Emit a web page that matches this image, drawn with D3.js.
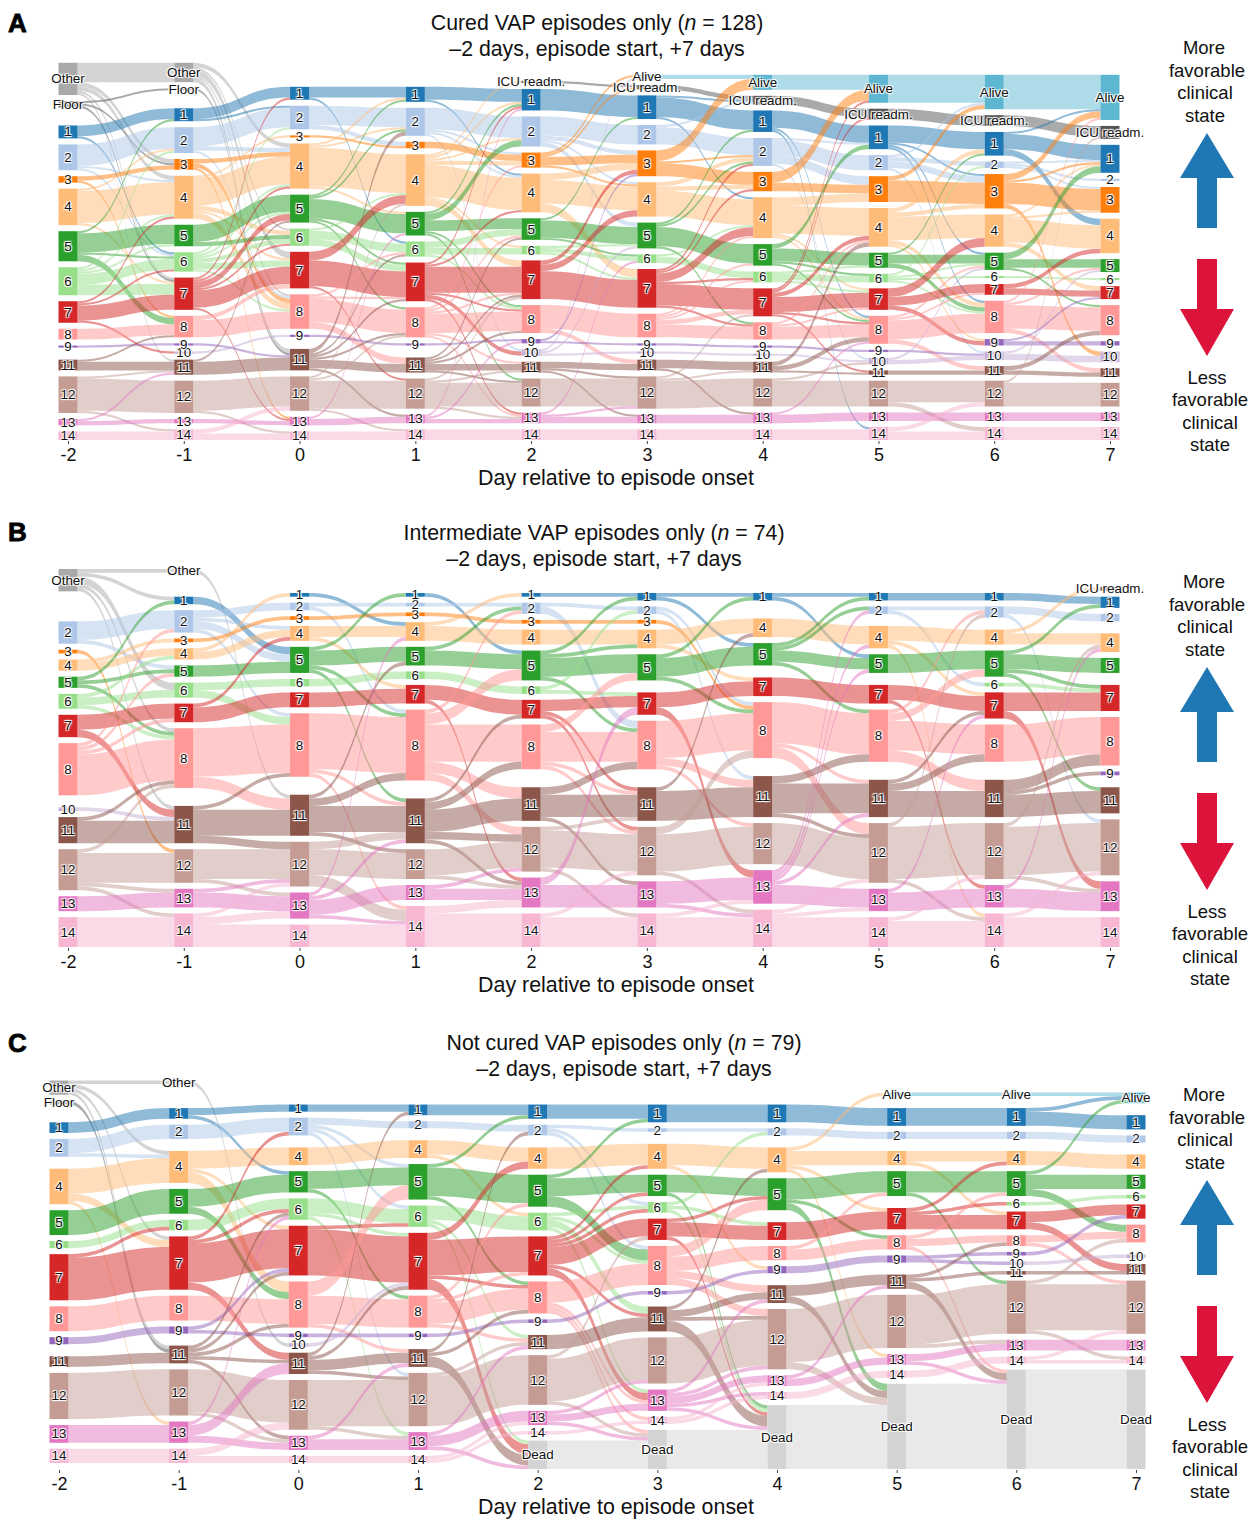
<!DOCTYPE html>
<html>
<head>
<meta charset="utf-8">
<script src="https://cdn.jsdelivr.net/npm/d3@7"></script>
<style>
body { margin: 0; background: #fff; }
svg text { font-family: "Liberation Sans", Arial, sans-serif; }
.nodeLabel { font-size: 13.4px; fill: #111; text-anchor: middle; dominant-baseline: central;
   text-shadow: 1px 1px 1px #fff, -1px -1px 1px #fff, 1px -1px 1px #fff, -1px 1px 1px #fff; }
.tick text { font-size: 18px; fill: #111; }
.tick line { stroke: #444; }
</style>
</head>
<body>
<div id="chart"></div>
<script>
const O = "Other", F = "Floor", AL = "Alive", IC = "ICU readm.", D = "Dead";
const stateOrder = [O, F, AL, IC, 1, 2, 3, 4, 5, 6, 7, 8, 9, 10, 11, 12, 13, 14, D];
const days = [-2, -1, 0, 1, 2, 3, 4, 5, 6, 7];

// patients per state, one row per day, same order as stateOrder
const nodesA = [
   [15,3,0,0, 6,12,3,17,14,13,10,5,1,0,5,17,3,4, 0],
   [9,1,0,0, 6,12,5,20,10,9,15,10,1,1,7,15,2,5, 0],
   [0,0,0,0, 6,11,1,21,13,8,17,16,1,0,10,16,4,4, 0],
   [0,0,0,0, 7,13,3,24,11,7,18,14,1,0,7,14,4,5, 0],
   [0,0,0,1, 10,14,7,18,10,4,18,13,2,3,5,13,5,5, 0],
   [0,0,2,2, 11,9,12,16,12,4,18,11,1,1,5,15,4,5, 0],
   [0,0,7,4, 10,13,9,19,10,5,13,8,1,1,5,13,5,5, 0],
   [0,0,13,5, 11,7,12,18,7,4,10,13,1,3,2,12,4,6, 0],
   [0,0,16,5, 11,3,16,15,8,1,5,15,3,4,4,12,4,6, 0],
   [0,0,21,6, 13,1,12,16,6,1,6,14,2,5,4,11,4,6, 0]
];
const nodesB = [
   [6,0,0,0, 0,6,1,3,3,4,6,14,0,1,7,11,4,8, 0],
   [1,0,0,0, 2,6,1,3,3,4,5,16,0,0,10,9,5,9, 0],
   [0,0,0,0, 1,2,1,4,7,2,4,17,0,0,11,12,7,6, 0],
   [0,0,0,0, 1,1,1,5,5,2,5,19,0,0,12,8,4,11, 0],
   [0,0,0,0, 1,3,1,4,8,2,5,12,0,0,9,12,8,9, 0],
   [0,0,0,0, 2,2,1,5,7,0,6,13,0,0,9,13,7,9, 0],
   [0,0,0,0, 2,0,0,5,6,0,5,15,0,0,11,11,9,10, 0],
   [0,0,0,0, 2,2,0,6,5,0,5,14,0,0,10,16,6,8, 0],
   [0,0,0,0, 2,3,0,4,7,1,7,10,0,0,10,15,6,9, 0],
   [0,0,0,1, 3,2,0,5,4,0,7,13,1,0,7,15,8,8, 0]
];
const nodesC = [
   [4,1,0,0, 3,5,0,10,7,2,13,7,2,0,3,13,5,4, 0],
   [1,0,0,0, 3,4,0,9,7,3,15,7,2,0,5,13,6,4, 0],
   [0,0,0,0, 2,5,0,5,6,6,14,13,1,1,6,14,4,2, 0],
   [0,0,0,0, 3,2,0,5,10,6,16,9,1,0,5,15,5,2, 0],
   [0,0,0,0, 4,3,0,6,9,5,11,9,1,0,4,14,4,1, 8],
   [0,0,0,0, 5,1,0,7,6,3,6,11,1,0,7,13,6,2, 11],
   [0,0,0,0, 5,2,0,7,9,0,5,4,2,0,5,17,3,2, 18],
   [0,0,1,0, 5,2,0,4,7,0,6,4,2,0,4,15,3,2, 24],
   [0,0,1,0, 5,2,0,4,7,1,5,3,1,1,1,15,3,2, 28],
   [0,0,3,0, 4,2,0,4,4,1,4,5,0,1,3,15,3,2, 28]
];

// [from, to, patients] for each step from one day to the next
const flowsA = [
   [[O,O,9],[O,3,2],[O,4,2],[O,7,1],[O,11,1],[F,F,1],[F,3,1],[F,7,1],[1,1,5],[1,6,1],[2,2,10],[2,4,1],[2,6,1],[3,3,2],[3,8,1],[4,2,1],[4,4,15],[4,7,1],[5,1,1],[5,5,9],[5,6,1],[5,8,3],[6,2,1],[6,4,1],[6,5,1],[6,6,5],[6,7,5],[7,4,1],[7,6,1],[7,7,7],[7,10,1],[8,8,5],[9,9,1],[11,8,1],[11,11,4],[12,11,1],[12,12,15],[12,14,1],[13,11,1],[13,13,2],[14,14,4]],
   [[O,4,2],[O,6,1],[O,7,3],[O,8,1],[O,11,2],[F,11,1],[1,1,5],[1,2,1],[2,2,9],[2,4,2],[2,8,1],[3,4,2],[3,8,2],[3,13,1],[4,3,1],[4,4,13],[4,6,2],[4,7,1],[4,8,3],[5,5,8],[5,6,2],[6,2,1],[6,4,1],[6,5,1],[6,6,2],[6,7,3],[6,8,1],[7,1,1],[7,4,1],[7,5,3],[7,6,1],[7,7,8],[7,13,1],[8,7,2],[8,8,8],[9,11,1],[10,9,1],[11,5,1],[11,11,6],[12,12,14],[12,14,1],[13,13,2],[14,12,2],[14,14,3]],
   [[1,1,5],[1,6,1],[2,2,9],[2,3,2],[3,3,1],[4,1,1],[4,2,1],[4,4,18],[4,5,1],[5,1,1],[5,2,1],[5,5,9],[5,7,1],[5,8,1],[6,4,1],[6,6,4],[6,7,3],[7,4,4],[7,7,12],[7,12,1],[8,6,1],[8,7,1],[8,8,11],[8,11,3],[9,9,1],[11,2,2],[11,6,1],[11,7,1],[11,8,1],[11,11,4],[11,13,1],[12,4,1],[12,8,1],[12,12,13],[12,14,1],[13,5,1],[13,13,3],[14,14,4]],
   [[1,1,6],[1,4,1],[2,2,10],[2,3,1],[2,4,1],[2,10,1],[3,3,3],[4,IC,1],[4,1,1],[4,2,1],[4,3,2],[4,4,15],[4,6,1],[4,7,3],[5,1,1],[5,2,3],[5,5,5],[5,8,1],[5,12,1],[6,5,3],[6,6,3],[6,8,1],[7,1,1],[7,4,1],[7,7,12],[7,8,1],[7,10,2],[7,13,1],[8,3,1],[8,5,1],[8,7,1],[8,8,9],[8,11,1],[8,13,1],[9,9,1],[11,5,1],[11,7,1],[11,8,1],[11,11,3],[11,12,1],[12,7,1],[12,11,1],[12,12,11],[12,13,1],[13,1,1],[13,9,1],[13,13,2],[14,14,5]],
   [[IC,IC,1],[1,1,10],[2,2,9],[2,3,2],[2,4,1],[2,5,2],[3,AL,1],[3,IC,1],[3,3,4],[3,4,1],[4,3,3],[4,4,11],[4,7,4],[5,1,1],[5,5,8],[5,6,1],[6,5,1],[6,6,2],[6,7,1],[7,3,2],[7,4,3],[7,7,13],[8,8,11],[8,11,2],[9,3,1],[9,9,1],[10,AL,1],[10,5,1],[10,10,1],[11,11,3],[11,12,1],[11,13,1],[12,12,13],[13,6,1],[13,12,1],[13,13,3],[14,14,5]],
   [[AL,AL,2],[IC,IC,2],[1,IC,1],[1,1,9],[1,4,1],[2,IC,1],[2,2,8],[3,AL,5],[3,2,1],[3,3,6],[4,2,2],[4,3,2],[4,4,12],[5,1,1],[5,2,1],[5,5,9],[5,8,1],[6,4,1],[6,6,3],[7,2,1],[7,3,1],[7,4,4],[7,6,1],[7,7,10],[7,8,1],[8,4,1],[8,5,1],[8,6,1],[8,7,2],[8,8,6],[9,9,1],[10,10,1],[11,11,4],[11,13,1],[12,7,1],[12,11,1],[12,12,13],[13,13,4],[14,14,5]],
   [[AL,AL,7],[IC,IC,4],[1,1,8],[1,8,1],[1,14,1],[2,1,1],[2,2,7],[2,3,4],[2,10,1],[3,AL,5],[3,3,4],[4,3,4],[4,4,13],[4,7,1],[4,8,1],[5,1,2],[5,5,6],[5,6,1],[5,8,1],[6,5,1],[6,6,3],[6,7,1],[7,AL,1],[7,IC,1],[7,4,2],[7,7,7],[7,8,1],[7,11,1],[8,4,1],[8,7,1],[8,8,6],[9,9,1],[10,10,1],[11,4,2],[11,8,2],[11,11,1],[12,10,1],[12,12,12],[13,8,1],[13,13,4],[14,14,5]],
   [[AL,AL,13],[IC,IC,5],[1,1,8],[1,3,1],[1,5,1],[1,8,1],[2,AL,1],[2,2,2],[2,3,3],[2,10,1],[3,AL,2],[3,3,10],[4,1,2],[4,3,2],[4,4,11],[4,8,2],[4,9,1],[5,1,1],[5,5,4],[5,8,2],[6,2,1],[6,6,1],[6,8,1],[6,5,1],[7,4,4],[7,7,4],[7,9,2],[8,5,1],[8,7,1],[8,8,9],[8,11,2],[9,10,1],[10,5,1],[10,10,2],[11,11,2],[12,12,10],[12,14,2],[13,13,4],[14,12,2],[14,14,4]],
   [[AL,AL,16],[IC,IC,5],[1,AL,1],[1,1,7],[1,4,3],[2,1,1],[2,2,1],[2,3,1],[3,AL,3],[3,1,1],[3,3,10],[3,10,2],[4,1,1],[4,3,1],[4,4,11],[4,7,2],[5,1,3],[5,5,4],[5,8,1],[6,6,1],[7,4,2],[7,7,3],[8,AL,1],[8,5,1],[8,8,11],[8,11,2],[9,7,1],[9,9,2],[10,5,1],[10,10,3],[11,8,2],[11,11,2],[12,IC,1],[12,12,11],[13,13,4],[14,14,6]]
];
const flowsB = [
   [[O,O,1],[O,1,1],[O,6,2],[O,8,1],[O,11,1],[2,2,5],[2,5,1],[3,12,1],[4,3,1],[4,4,2],[5,1,1],[5,5,1],[5,8,1],[6,4,1],[6,6,2],[6,8,1],[7,7,4],[7,11,2],[8,2,1],[8,5,1],[8,7,1],[8,8,11],[10,11,1],[11,8,1],[11,11,6],[12,8,1],[12,12,8],[12,13,1],[12,14,1],[13,13,4],[14,14,8]],
   [[O,11,1],[1,5,2],[2,2,2],[2,4,1],[2,5,2],[2,8,1],[3,3,1],[4,1,1],[4,4,2],[5,5,3],[6,6,2],[6,8,2],[7,4,1],[7,7,4],[8,8,13],[8,11,3],[11,8,1],[11,11,7],[11,12,2],[12,12,8],[12,13,1],[13,12,1],[13,13,4],[14,12,1],[14,13,2],[14,14,6]],
   [[1,4,1],[2,2,1],[2,8,1],[3,3,1],[4,4,3],[4,7,1],[5,1,1],[5,5,4],[5,8,1],[5,11,1],[6,6,2],[7,7,4],[8,8,15],[8,11,1],[8,14,1],[11,5,1],[11,8,2],[11,11,7],[11,12,1],[12,11,2],[12,12,7],[12,14,3],[13,4,1],[13,11,1],[13,13,4],[13,14,1],[14,14,6]],
   [[1,5,1],[2,2,1],[3,3,1],[4,1,1],[4,4,4],[5,2,1],[5,5,4],[6,6,2],[7,7,4],[7,13,1],[8,2,1],[8,5,3],[8,8,10],[8,11,3],[8,12,2],[11,7,1],[11,8,2],[11,11,6],[11,12,2],[11,13,1],[12,12,7],[12,13,1],[13,12,1],[13,13,3],[14,13,2],[14,14,9]],
   [[1,1,1],[2,2,1],[2,8,2],[3,3,1],[4,4,4],[5,1,1],[5,4,1],[5,5,5],[5,8,1],[6,2,1],[6,7,1],[7,7,3],[7,11,1],[7,12,1],[8,5,2],[8,8,8],[8,11,1],[8,12,1],[11,8,2],[11,11,6],[11,13,1],[12,11,1],[12,12,10],[12,14,1],[13,7,2],[13,13,6],[14,12,1],[14,14,8]],
   [[1,1,1],[1,5,1],[2,8,1],[2,11,1],[3,8,1],[4,4,4],[4,7,1],[5,1,1],[5,5,5],[5,8,1],[7,7,4],[7,13,2],[8,8,10],[8,11,2],[8,12,1],[11,4,1],[11,11,8],[12,8,2],[12,12,10],[12,14,1],[13,13,6],[13,14,1],[14,13,1],[14,14,8]],
   [[1,1,1],[1,5,1],[4,4,5],[5,1,1],[5,2,1],[5,5,3],[5,8,1],[7,7,5],[8,8,11],[8,11,1],[8,12,3],[11,8,2],[11,11,8],[11,12,1],[12,12,11],[13,2,1],[13,4,1],[13,5,1],[13,11,1],[13,13,5],[14,12,1],[14,13,1],[14,14,8]],
   [[1,1,2],[2,2,1],[2,6,1],[4,4,4],[4,7,1],[4,14,1],[5,5,5],[7,7,4],[7,13,1],[8,2,1],[8,5,2],[8,8,8],[8,11,3],[11,7,1],[11,8,2],[11,11,7],[12,2,1],[12,12,14],[12,14,1],[13,7,1],[13,13,5],[14,12,1],[14,14,7]],
   [[1,1,2],[2,2,2],[2,12,1],[4,IC,1],[4,4,3],[5,1,1],[5,5,4],[5,7,1],[5,11,1],[6,7,1],[7,7,5],[7,13,2],[8,8,10],[11,8,3],[11,9,1],[11,11,6],[12,4,1],[12,12,13],[12,13,1],[13,4,1],[13,13,5],[14,12,1],[14,14,8]]
];
const flowsC = [
   [[O,O,1],[O,4,1],[O,7,1],[O,11,1],[F,11,1],[1,1,3],[2,2,4],[2,4,1],[4,4,7],[4,7,2],[4,13,1],[5,5,7],[6,6,2],[7,6,1],[7,7,12],[8,8,7],[9,9,2],[11,11,3],[12,12,13],[13,13,5],[14,14,4]],
   [[O,10,1],[1,1,2],[1,5,1],[2,2,4],[4,4,5],[4,7,1],[4,8,3],[5,5,5],[5,8,2],[6,6,3],[7,2,1],[7,6,1],[7,7,11],[7,11,2],[8,8,7],[9,7,1],[9,9,1],[11,6,1],[11,7,1],[11,8,1],[11,11,1],[11,13,1],[12,12,12],[12,13,1],[13,6,1],[13,11,3],[13,13,2],[14,12,2],[14,14,2]],
   [[1,1,2],[2,2,2],[2,5,1],[2,6,1],[2,12,1],[4,4,5],[5,5,5],[5,8,1],[6,6,4],[6,7,1],[6,13,1],[7,6,1],[7,7,13],[8,5,4],[8,8,8],[8,11,1],[9,9,1],[10,7,1],[11,1,1],[11,7,1],[11,11,3],[11,12,1],[12,12,13],[12,13,1],[13,11,1],[13,13,3],[14,14,2]],
   [[1,1,3],[2,2,2],[4,4,4],[4,6,1],[5,1,1],[5,5,8],[5,8,1],[6,6,4],[6,11,1],[6,D,1],[7,4,2],[7,7,10],[7,8,1],[7,D,3],[8,5,1],[8,7,1],[8,8,6],[8,11,1],[9,9,1],[11,2,1],[11,8,1],[11,D,3],[12,11,1],[12,12,14],[13,11,1],[13,13,3],[13,D,1],[14,13,1],[14,14,1]],
   [[1,1,4],[2,2,1],[2,6,1],[2,8,1],[4,4,6],[5,1,1],[5,5,5],[5,8,3],[6,6,1],[6,8,1],[6,11,2],[6,13,1],[7,4,1],[7,5,1],[7,6,1],[7,7,5],[7,11,1],[7,13,2],[8,8,6],[8,13,1],[8,14,1],[8,D,1],[9,9,1],[11,11,4],[12,7,1],[12,12,12],[12,D,1],[13,12,1],[13,13,2],[13,D,1],[14,14,1],[D,D,8]],
   [[1,1,5],[2,2,1],[4,4,6],[4,9,1],[5,5,5],[5,D,1],[6,2,1],[6,7,1],[6,D,1],[7,5,1],[7,7,4],[7,D,1],[8,5,3],[8,8,4],[8,11,2],[8,12,2],[9,9,1],[11,4,1],[11,11,2],[11,12,1],[11,D,3],[12,12,13],[13,11,1],[13,12,1],[13,13,2],[13,14,1],[13,D,1],[14,13,1],[14,14,1],[D,D,11]],
   [[1,1,5],[2,2,2],[4,AL,1],[4,4,4],[4,7,1],[4,13,1],[5,5,6],[5,8,1],[5,D,2],[7,7,5],[8,5,1],[8,8,3],[9,9,2],[11,11,3],[11,D,2],[12,12,15],[12,D,2],[13,11,1],[13,13,2],[14,14,2],[D,D,18]],
   [[AL,AL,1],[1,1,5],[2,2,2],[4,4,3],[4,7,1],[5,5,6],[5,12,1],[7,4,1],[7,6,1],[7,7,4],[8,5,1],[8,8,2],[8,D,1],[9,9,1],[9,10,1],[11,8,1],[11,11,1],[11,D,2],[12,12,14],[12,13,1],[13,13,2],[13,D,1],[14,14,2],[D,D,24]],
   [[AL,AL,1],[1,AL,1],[1,1,4],[2,2,2],[4,4,4],[5,AL,1],[5,5,4],[5,8,2],[6,6,1],[7,7,3],[7,11,2],[8,8,2],[8,12,1],[9,7,1],[10,10,1],[11,11,1],[12,8,1],[12,12,13],[12,14,1],[13,13,3],[14,12,1],[14,14,1],[D,D,28]]
];

var stateColor = new Map([
   [O,"#a9a9a9"],[F,"#555555"],[AL,"#5db7d1"],[IC,"#555555"],[D,"#d3d3d3"],
   [1,"#1f77b4"],[2,"#aec7e8"],[3,"#ff7f0e"],[4,"#ffbb78"],[5,"#2ca02c"],[6,"#98df8a"],[7,"#d62728"],
   [8,"#ff9896"],[9,"#9467bd"],[10,"#c5b0d5"],[11,"#8c564b"],[12,"#c49c94"],[13,"#e377c2"],[14,"#f7b6d2"]
]);

var panels = [
   {letter:"A", title:"Cured VAP episodes only (", n:128, nodes:nodesA, flows:flowsA, x0:68, x1:1110, bottom:440, unit:2.15, titleX:597, top:23, letterY:32, axisY:478, side:0},
   {letter:"B", title:"Intermediate VAP episodes only (", n:74, nodes:nodesB, flows:flowsB, x0:68, x1:1110, bottom:947, unit:3.73, titleX:594, top:533, letterY:541, axisY:985, side:534},
   {letter:"C", title:"Not cured VAP episodes only (", n:79, nodes:nodesC, flows:flowsC, x0:59, x1:1136, bottom:1469, unit:3.55, titleX:624, top:1043, letterY:1052, axisY:1507, side:1047}
];

var w = 1250, h = 1519, gap = 6, nodeW = 19;

var svg = d3.select("#chart").append("svg").attr("width", w).attr("height", h);

panels.forEach(function(p){
   var x = d3.scalePoint().domain(days).range([p.x0, p.x1]);
   var thick = d3.scaleLinear().domain([0, p.n]).range([0, p.n * p.unit]);
   var hasDead = d3.max(p.nodes, function(r){ return r[r.length-1]; }) > 0;
   var g = svg.append("g");

   // stack each day's column up from the bottom, empty states still take a gap
   var cols = p.nodes.map(function(row, di){
      var y = p.bottom, col = new Map();
      for(let i = stateOrder.length - 1; i >= 0; i--){
         if(stateOrder[i] == D && !hasDead) continue;
         var t = thick(row[i]);
         col.set(stateOrder[i], {state:stateOrder[i], day:days[di], y0:y - t, y1:y, outY:y - t, inY:y - t});
         y -= t + gap;
      }
      return col;
   });

   // links
   var order = function(s){ return stateOrder.indexOf(s); };
   p.flows.forEach(function(step, di){
      var sorted = step.slice().sort(function(a, b){
         return d3.ascending(order(a[0]), order(b[0])) || d3.ascending(order(a[1]), order(b[1]));
      });
      var links = sorted.map(function(f){ return {from:f[0], to:f[1], value:f[2]}; });
      links.forEach(function(l){
         var n = cols[di].get(l.from);
         l.y0 = n.outY;
         n.outY += thick(l.value);
      });
      links.slice().sort(function(a, b){
         return d3.ascending(order(a.to), order(b.to)) || d3.ascending(order(a.from), order(b.from));
      }).forEach(function(l){
         var n = cols[di+1].get(l.to);
         l.y1 = n.inY;
         n.inY += thick(l.value);
      });
      var xa = x(days[di]) + nodeW/2, xb = x(days[di+1]) - nodeW/2, xm = (xa + xb)/2;
      g.append("g").selectAll("path")
         .data(links)
         .enter()
         .append("path")
         .attr("d", function(l){
            var t = thick(l.value), pth = d3.path();
            pth.moveTo(xa, l.y0);
            pth.bezierCurveTo(xm, l.y0, xm, l.y1, xb, l.y1);
            pth.lineTo(xb, l.y1 + t);
            pth.bezierCurveTo(xm, l.y1 + t, xm, l.y0 + t, xa, l.y0 + t);
            pth.closePath();
            return pth.toString();
         })
         .attr("fill", function(l){ return stateColor.get(l.from); })
         .attr("fill-opacity", 0.5);
   });

   // nodes and labels
   var nodeList = [];
   cols.forEach(function(col){
      col.forEach(function(n){ if(n.y1 - n.y0 > 0) nodeList.push(n); });
   });
   g.append("g").selectAll("rect")
      .data(nodeList)
      .enter()
      .append("rect")
      .attr("x", function(n){ return x(n.day) - nodeW/2; })
      .attr("y", function(n){ return n.y0; })
      .attr("width", nodeW)
      .attr("height", function(n){ return n.y1 - n.y0; })
      .attr("fill", function(n){ return stateColor.get(n.state); });
   g.append("g").selectAll("text")
      .data(nodeList)
      .enter()
      .append("text")
      .attr("class", "nodeLabel")
      .attr("x", function(n){ return x(n.day); })
      .attr("y", function(n){ return (n.y0 + n.y1)/2; })
      .text(function(n){ return n.state; });

   // day axis
   var axis = d3.axisBottom(x).tickSize(3).tickPadding(4).tickFormat(function(d){ return d; });
   g.append("g").attr("transform", "translate(0," + (p.bottom + 1) + ")").call(axis)
      .call(function(a){ a.select(".domain").remove(); });

   g.append("text").attr("x", 616).attr("y", p.axisY).attr("text-anchor", "middle")
      .attr("dominant-baseline", "central").attr("font-size", 21.4).attr("fill", "#111")
      .text("Day relative to episode onset");

   // titles
   var t1 = g.append("text").attr("x", p.titleX).attr("y", p.top).attr("text-anchor", "middle")
      .attr("dominant-baseline", "central").attr("font-size", 21.3).attr("fill", "#111");
   t1.append("tspan").text(p.title);
   t1.append("tspan").attr("font-style", "italic").text("n");
   t1.append("tspan").text(" = " + p.n + ")");
   g.append("text").attr("x", p.titleX).attr("y", p.top + 26).attr("text-anchor", "middle")
      .attr("dominant-baseline", "central").attr("font-size", 21.3).attr("fill", "#111")
      .text("\u20132 days, episode start, +7 days");

   g.append("text").attr("x", 8).attr("y", p.letterY).attr("font-size", 26).attr("font-weight", "bold")
      .attr("stroke", "#000").attr("stroke-width", 0.8).text(p.letter);

   // side arrows and captions
   var s = g.append("g").attr("transform", "translate(0," + p.side + ")");
   s.append("path").attr("fill", "#1f77b4")
      .attr("d", "M1207,133L1234,178H1217V228H1197V178H1180Z");
   s.append("path").attr("fill", "#dc143c")
      .attr("d", "M1197,259H1217V309H1234L1207,356L1180,309H1197Z");
   var more = [["More",1204,47.5],["favorable",1207,70],["clinical",1205,92.5],["state",1205,115]];
   var less = [["Less",1207,377],["favorable",1210,399.5],["clinical",1210,422],["state",1210,444.5]];
   s.selectAll(".side").data(more.concat(less)).enter().append("text")
      .attr("x", function(d){ return d[1]; })
      .attr("y", function(d){ return d[2]; })
      .attr("text-anchor", "middle").attr("dominant-baseline", "central")
      .attr("font-size", 18.5).attr("fill", "#111")
      .text(function(d){ return d[0]; });
});
</script>
</body>
</html>
